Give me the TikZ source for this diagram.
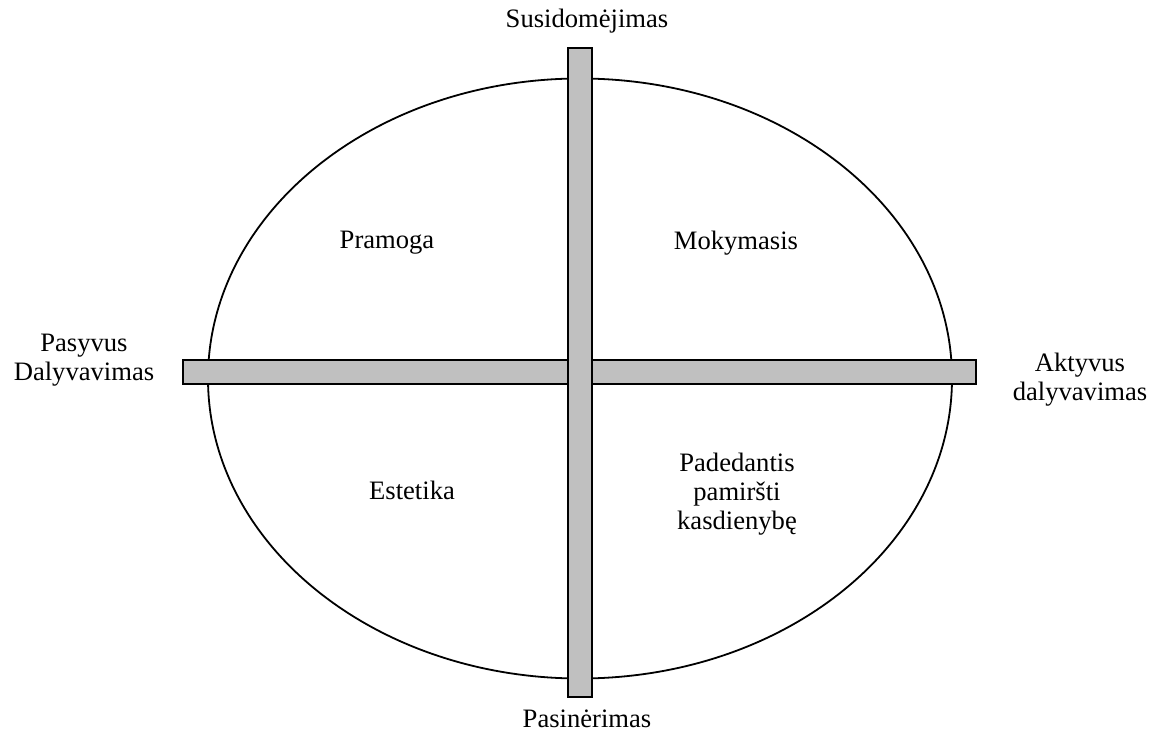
\documentclass[tikz,border=0pt]{standalone}
\usepackage{fontspec}
\setmainfont{Liberation Serif}
\usetikzlibrary{shapes.geometric}
\begin{document}
\begin{tikzpicture}[x=0.5pt,y=-0.5pt,
  bar/.style={draw=black,line width=0.9pt,fill={rgb,255:red,192;green,192;blue,192},inner sep=0pt,outer sep=0pt},
  lbl/.style={inner sep=0pt,align=center,font=\fontsize{13.3}{14.5}\selectfont}]
\useasboundingbox (0,0) rectangle (1152,733);
\node[draw=black,line width=0.9pt,ellipse,minimum width=372pt,minimum height=300pt,inner sep=0pt] (oval) at (580,378.5) {};
\node[bar,minimum width=396.5pt,minimum height=12pt] (hbar) at (579.5,372) {};
\node[bar,minimum width=12pt,minimum height=324.5pt] (vbar) at (580,372.5) {};
\node[lbl] (top) at (587,21) {Susidomėjimas};
\node[lbl] (bottom) at (587,719) {Pasinėrimas};
\node[lbl] (left) at (84,360) {Pasyvus\\Dalyvavimas};
\node[lbl] (right) at (1080,380) {Aktyvus\\dalyvavimas};
\node[lbl] (q1) at (387,243) {Pramoga};
\node[lbl] (q2) at (736,243) {Mokymasis};
\node[lbl] (q3) at (412,490) {Estetika};
\node[lbl] (q4) at (737,494) {Padedantis\\pamiršti\\kasdienybę};
\end{tikzpicture}
\end{document}
